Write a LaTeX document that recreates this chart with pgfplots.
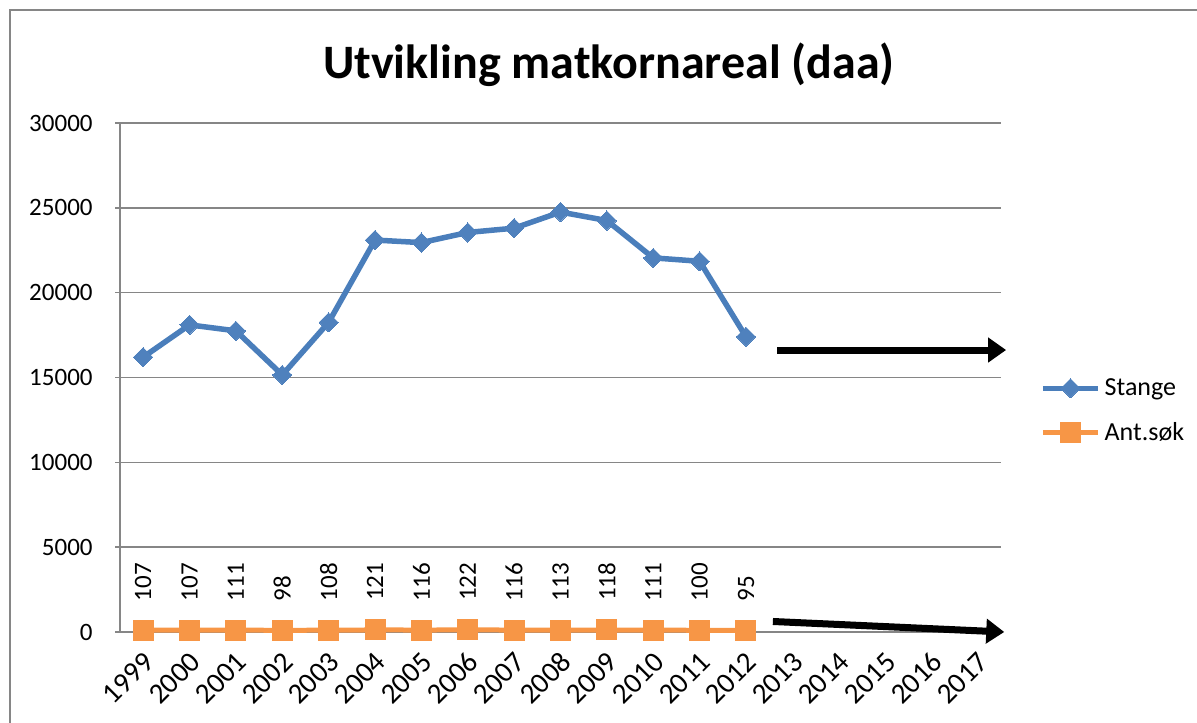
\documentclass[border=0pt]{standalone}
\usepackage{fontspec}
\setmainfont{Carlito}
\usepackage{pgfplots}
\pgfplotsset{compat=1.18}
\usetikzlibrary{arrows.meta}
\definecolor{sblue}{HTML}{4A7EBB}
\definecolor{sbluef}{HTML}{4F81BD}
\definecolor{sorange}{HTML}{F79646}
\definecolor{gridg}{HTML}{868686}
\begin{document}
\begin{tikzpicture}[x=1pt,y=1pt]
\useasboundingbox (0,0) rectangle (598.5,361);
\draw[gridg, line width=1pt] (5,-20) -- (5,356) -- (620,356);
\node[anchor=base, font=\bfseries\fontsize{24}{28}\selectfont] at (304.5,321.5) {Utvikling matkornareal (daa)};
\begin{axis}[
  at={(60pt,45pt)}, anchor=south west,
  scale only axis, width=440.5pt, height=254.5pt,
  xmin=-0.5, xmax=18.5, ymin=0, ymax=30000,
  clip=false, scaled y ticks=false,
  /pgf/number format/.cd, assume math mode=true, 1000 sep={}, /pgfplots/.cd,
  axis x line*=bottom, axis y line*=left,
  axis line style={gridg, line width=0.75pt, -},
  ytick={0,5000,10000,15000,20000,25000,30000},
  ymajorgrids, grid style={gridg, line width=0.75pt},
  tick align=outside, major tick length=2.5pt,
  ytick style={gridg, line width=0.75pt},
  xtick style={draw=none},
  xtick={0,1,2,3,4,5,6,7,8,9,10,11,12,13,14,15,16,17,18},
  xticklabels={1999,2000,2001,2002,2003,2004,2005,2006,2007,2008,2009,2010,2011,2012,2013,2014,2015,2016,2017},
  yticklabel style={font=\fontsize{12.5}{15}\selectfont, anchor=east, inner sep=0pt, xshift=-11pt},
  xticklabel style={font=\fontsize{14.5}{16}\selectfont, yshift=-10pt, xshift=3pt, rotate=45, anchor=east, inner sep=0pt},
  legend style={at={(1.044,0.507)}, anchor=north west, draw=none, fill=none, font=\fontsize{13}{15}\selectfont, inner sep=0pt, row sep=8pt},
  legend cell align=left,
  legend image code/.code={\draw[mark repeat=2, mark phase=2, #1] plot coordinates {(0pt,0pt)(13.75pt,0pt)(27.5pt,0pt)};},
]
\addplot[sblue, line width=2.75pt, line join=round, mark=square*, mark size=3.4pt, mark options={rotate=45, fill=sbluef, draw=sbluef, line width=0pt}] coordinates {
(0,16200) (1,18100) (2,17750) (3,15150) (4,18250) (5,23100) (6,22950) (7,23550) (8,23800) (9,24750) (10,24250) (11,22050) (12,21850) (13,17400)};
\addlegendentry{Stange}
\addplot[sorange, line width=2.5pt, mark=square*, mark size=5pt, mark options={fill=sorange, draw=sorange, line width=0pt},
  nodes near coords, point meta=y,
  every node near coord/.append style={font=\fontsize{12.5}{14}\selectfont, text=black, yshift=14.5pt, rotate=90, anchor=west, inner sep=0pt}] coordinates {
(0,107) (1,107) (2,111) (3,98) (4,108) (5,121) (6,116) (7,122) (8,116) (9,113) (10,118) (11,111) (12,100) (13,95)};
\addlegendentry{Ant.søk}
\draw[black, line width=3.5pt, -{Triangle[length=9pt,width=12pt]}] (axis cs:13.67,16620) -- (axis cs:18.61,16620);
\draw[black, line width=3.5pt, -{Triangle[length=9pt,width=12pt]}] (axis cs:13.58,620) -- (axis cs:18.57,0);
\end{axis}
\end{tikzpicture}
\end{document}
